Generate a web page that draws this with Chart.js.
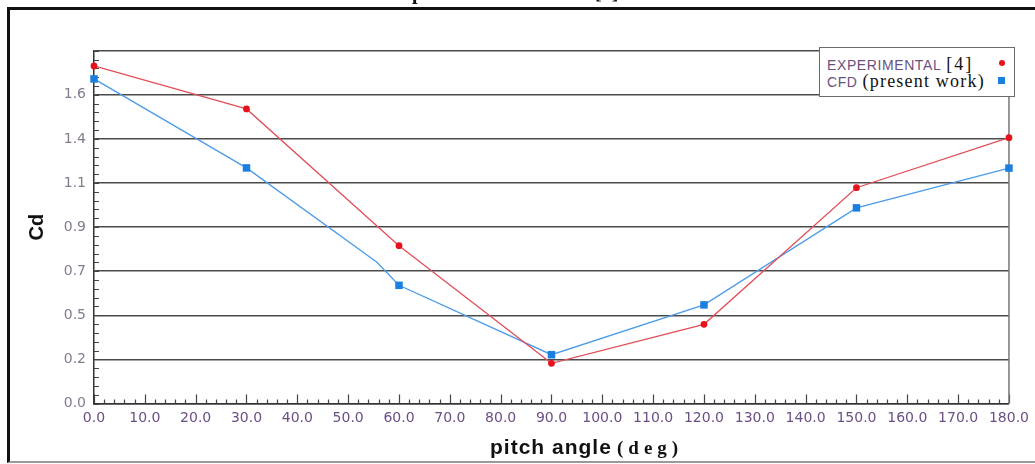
<!DOCTYPE html>
<html>
<head>
<meta charset="utf-8">
<script src="https://cdn.jsdelivr.net/npm/chart.js@4/dist/chart.umd.min.js"></script>
<style>
  html, body { margin: 0; padding: 0; background: #fff; }
  #wrap { position: relative; width: 1035px; height: 464px; overflow: hidden; }
  #frame { position: absolute; left: 7px; top: 7px; width: 1040px; height: 451px;
           border-top: 3px solid #111; border-left: 3px solid #111; border-bottom: 2px solid #9a9a9a;
           pointer-events: none; }
  #title { position: absolute; left: 371px; top: -18px; font: bold 20px "Liberation Serif", serif;
           line-height: 20px; white-space: nowrap; color: #111; }
  #legend { position: absolute; left: 819px; top: 47px; width: 194px; height: 48px;
            border: 1.5px solid #6b6b6b; background: #fff; }
  #legend .row { position: absolute; left: 7px; height: 18px; line-height: 18px; white-space: nowrap; }
  #legend .name { font: 14px "Liberation Sans", Arial, sans-serif; color: #6a4f80; letter-spacing: 0.6px; }
  #legend .note { font: 18px "Liberation Serif", serif; color: #111; margin-left: 5px; }
  #legend .mark { position: absolute; }
</style>
</head>
<body>
<div id="wrap">
  <canvas id="chart" width="1035" height="464"></canvas>
  <div id="title">Comparison of Cd results [4]</div>
  <div id="legend"></div>
  <div id="frame"></div>
</div>
<script>
// pitch angle (deg) and drag coefficient
const angles = [0, 30, 60, 90, 120, 150, 180];
const expCd = [1.722, 1.503, 0.805, 0.205, 0.404, 1.101, 1.356];

// CFD line has a small bend near 55 deg (no marker there)
const cfdAngles = [0, 30, 55.6, 60, 90, 120, 150, 180];
const cfdCd = [1.656, 1.202, 0.722, 0.603, 0.249, 0.503, 0.998, 1.201];
const cfdMarked = [true, true, false, true, true, true, true, true];

const seriesNames = ['EXPERIMENTAL', 'CFD'];
const seriesNotes = ['[4]', '(present work)'];
const seriesColors = ['#e8121c', '#1b7fe0'];
const lineColors = ['#e0505a', '#4c9be8'];

const yTickLabels = ['0.0', '0.2', '0.5', '0.7', '0.9', '1.1', '1.4', '1.6', ''];
const xTickLabels = ['0.0', '10.0', '20.0', '30.0', '40.0', '50.0', '60.0', '70.0', '80.0', '90.0',
  '100.0', '110.0', '120.0', '130.0', '140.0', '150.0', '160.0', '170.0', '180.0'];

// legend box (mixed fonts, so built as html)
const legend = document.getElementById('legend');
seriesNames.forEach((name, i) => {
    const row = document.createElement('div');
    row.className = 'row';
    row.style.top = (i === 0 ? 6 : 23) + 'px';
    row.innerHTML = '<span class="name">' + name + '</span><span class="note" style="letter-spacing:' +
        (i === 0 ? 2 : 1.2) + 'px">' + seriesNotes[i] + '</span>';
    legend.appendChild(row);
    const m = document.createElement('div');
    m.className = 'mark';
    if (i === 0) {
        m.style.cssText = 'left:179px;top:12px;width:6px;height:6px;border-radius:50%;background:' + seriesColors[0];
    } else {
        m.style.cssText = 'left:178px;top:29px;width:7px;height:7px;background:' + seriesColors[1];
    }
    legend.appendChild(m);
});

// inward tick marks, right border and the x axis title
const decorations = {
    id: 'decorations',
    beforeDatasetsDraw(chart) {
        const { ctx, chartArea, scales: { x, y } } = chart;
        ctx.save();
        ctx.strokeStyle = '#444';
        ctx.lineWidth = 1.2;
        ctx.beginPath();
        for (let v = 0; v <= 180; v += 2) {
            const px = Math.round(x.getPixelForValue(v)) + 0.5;
            const len = v % 10 === 0 ? 9 : 4;
            ctx.moveTo(px, chartArea.bottom);
            ctx.lineTo(px, chartArea.bottom - len);
        }
        for (let i = 0; i <= 40; i++) {
            const py = Math.round(y.getPixelForValue(i * 0.045)) + 0.5;
            ctx.moveTo(chartArea.left, py);
            ctx.lineTo(chartArea.left + 5, py);
        }
        ctx.stroke();
        ctx.strokeStyle = '#777';
        ctx.lineWidth = 1.5;
        ctx.beginPath();
        ctx.moveTo(chartArea.right, chartArea.top);
        ctx.lineTo(chartArea.right, chartArea.bottom);
        ctx.stroke();
        ctx.restore();
    },
    afterDraw(chart) {
        const { ctx, chartArea } = chart;
        ctx.save();
        ctx.fillStyle = '#111';
        ctx.textBaseline = 'alphabetic';
        ctx.font = 'bold 21px "Liberation Sans", Arial, sans-serif';
        ctx.letterSpacing = '1px';
        const x0 = chartArea.left + 396;
        ctx.fillText('pitch angle', x0, 454);
        ctx.font = 'bold 19px "Liberation Serif", serif';
        ctx.letterSpacing = '5px';
        ctx.fillText('(deg)', x0 + 127, 454);
        ctx.restore();
    }
};

new Chart(document.getElementById('chart'), {
    type: 'line',
    data: {
        datasets: [
            {
                label: seriesNames[0],
                data: angles.map((a, i) => ({ x: a, y: expCd[i] })),
                borderColor: lineColors[0],
                borderWidth: 1.3,
                pointStyle: 'circle',
                pointRadius: 3.4,
                pointBackgroundColor: seriesColors[0],
                pointBorderColor: seriesColors[0],
                pointBorderWidth: 0,
                tension: 0,
                fill: false
            },
            {
                label: seriesNames[1],
                data: cfdAngles.map((a, i) => ({ x: a, y: cfdCd[i] })),
                borderColor: lineColors[1],
                borderWidth: 1.3,
                pointStyle: 'rect',
                pointRadius: cfdMarked.map(m => m ? 5.3 : 0),
                pointBackgroundColor: seriesColors[1],
                pointBorderColor: seriesColors[1],
                pointBorderWidth: 0,
                tension: 0,
                fill: false
            }
        ]
    },
    options: {
        responsive: false,
        animation: false,
        devicePixelRatio: 1,
        clip: false,
        layout: { padding: { top: 50.7, right: 18, left: 0, bottom: 0 } },
        plugins: { legend: { display: false }, tooltip: { enabled: false } },
        scales: {
            x: {
                type: 'linear',
                min: 0,
                max: 180,
                afterFit: s => { s.height = 60.5; },
                grid: { display: false, drawTicks: false },
                border: { display: true, color: '#333', width: 1.5 },
                ticks: {
                    stepSize: 10,
                    padding: 6,
                    maxRotation: 0,
                    autoSkip: false,
                    color: '#6b4f85',
                    font: { family: '"DejaVu Sans", sans-serif', size: 14 },
                    callback: (v, i) => xTickLabels[i]
                }
            },
            y: {
                min: 0,
                max: 1.8,
                afterFit: s => { s.width = 94; },
                grid: { color: '#4a4a4a', lineWidth: 1.5, drawTicks: false },
                border: { display: true, color: '#333', width: 1.5 },
                title: {
                    display: true,
                    text: 'Cd',
                    color: '#111',
                    font: { family: '"Liberation Sans", Arial, sans-serif', size: 20, weight: 'bold' },
                    padding: { top: 25, bottom: 0 }
                },
                ticks: {
                    stepSize: 0.225,
                    padding: 8,
                    autoSkip: false,
                    color: '#857a8e',
                    font: { family: '"DejaVu Sans", sans-serif', size: 14 },
                    callback: (v, i) => yTickLabels[i]
                }
            }
        }
    },
    plugins: [decorations]
});
</script>
</body>
</html>
